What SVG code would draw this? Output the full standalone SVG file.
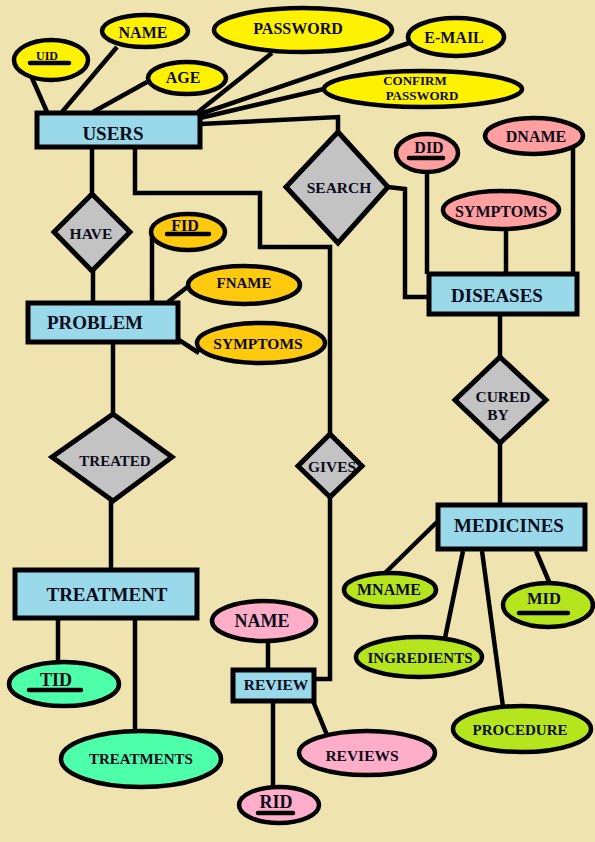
<svg xmlns="http://www.w3.org/2000/svg" width="595" height="842" viewBox="0 0 595 842">
<style>
.ent{fill:#99D9EA;stroke:#000;stroke-width:5}
.rel{fill:#C3C3C3;stroke:#000;stroke-width:5;stroke-linejoin:miter}
.att{stroke:#000;stroke-width:4.5}
.y{fill:#FFF200}.o{fill:#FFC90E}.p{fill:#FF9F9F}.r{fill:#FFAEC9}.g{fill:#B5E61D}.t{fill:#4EFFAA}
text{font-family:"Liberation Serif","Times New Roman",serif;font-weight:bold;fill:#0b0b1a;text-anchor:middle}
.ul{stroke:#000;stroke-width:4.5;stroke-linecap:round}
#connectors path,#connectors line{stroke:#000;stroke-width:4.5;fill:none}
</style>
<rect width="595" height="842" fill="#EFE4B0"/>
<g id="connectors">
<line x1="32" y1="78" x2="47" y2="112"/>
<line x1="117" y1="47" x2="62" y2="112"/>
<line x1="147" y1="82" x2="93" y2="112"/>
<line x1="272" y1="53" x2="198" y2="112"/>
<line x1="409" y1="43" x2="200" y2="114"/>
<line x1="324" y1="89" x2="200" y2="118"/>
<path d="M200 124 L338 117 L338 132"/>
<path d="M388 187 L405 189 L405 297 L429 297"/>
<line x1="427" y1="172" x2="427" y2="274"/>
<line x1="573" y1="148" x2="573" y2="274"/>
<line x1="506" y1="228" x2="506" y2="274"/>
<line x1="500" y1="316" x2="500" y2="357"/>
<line x1="500" y1="443" x2="500" y2="505"/>
<line x1="385" y1="573" x2="437" y2="522"/>
<line x1="445" y1="638" x2="463" y2="551"/>
<line x1="503" y1="707" x2="482" y2="551"/>
<line x1="536" y1="551" x2="550" y2="584"/>
<line x1="92" y1="149" x2="92" y2="194"/>
<line x1="93" y1="271" x2="93" y2="304"/>
<path d="M135 149 L135 193 L260 193 L260 247 L330 247 L330 434"/>
<line x1="152" y1="230" x2="152" y2="304"/>
<line x1="190" y1="285" x2="168" y2="302"/>
<line x1="179" y1="340" x2="199" y2="353"/>
<line x1="113" y1="343" x2="113" y2="414"/>
<line x1="111" y1="501" x2="111" y2="571"/>
<path d="M330 497 L330 679 L315 679"/>
<line x1="268" y1="640" x2="268" y2="671"/>
<line x1="273" y1="701" x2="273" y2="788"/>
<line x1="313" y1="701" x2="327" y2="735"/>
<line x1="58" y1="619" x2="58" y2="663"/>
<line x1="135" y1="618" x2="135" y2="734"/>
</g>
<g id="users"><rect class="ent" x="37" y="113" width="163" height="34"/><text x="113" y="140" font-size="19">USERS</text></g>
<g id="uid"><ellipse class="att y" cx="51" cy="60" rx="37" ry="20"/><text x="47" y="60" font-size="12">UID</text><line class="ul" x1="30" y1="63" x2="69" y2="63"/></g>
<g id="name"><ellipse class="att y" cx="145" cy="31" rx="43" ry="16"/><text x="143" y="38" font-size="16">NAME</text></g>
<g id="age"><ellipse class="att y" cx="187" cy="78" rx="39" ry="16"/><text x="183" y="83" font-size="16">AGE</text></g>
<g id="password"><ellipse class="att y" cx="303" cy="30" rx="89" ry="22"/><text x="298" y="34" font-size="16">PASSWORD</text></g>
<g id="email"><ellipse class="att y" cx="456" cy="37" rx="48" ry="19"/><text x="454" y="43" font-size="16">E-MAIL</text></g>
<g id="confirm"><ellipse class="att y" cx="423" cy="89" rx="99" ry="18"/><text x="415" y="85" font-size="13">CONFIRM</text><text x="422" y="100" font-size="13">PASSWORD</text></g>
<g id="search"><polygon class="rel" points="338,132 388,187 338,243 286,187"/><text x="339" y="193" font-size="15.5">SEARCH</text></g>
<g id="diseases"><rect class="ent" x="429" y="274" width="148" height="40"/><text x="497" y="302" font-size="19">DISEASES</text></g>
<g id="did"><ellipse class="att p" cx="427" cy="153" rx="31" ry="19"/><text x="429" y="153" font-size="16">DID</text><line class="ul" x1="409" y1="158" x2="443" y2="158"/></g>
<g id="dname"><ellipse class="att p" cx="534" cy="136" rx="49" ry="18"/><text x="536" y="142" font-size="16">DNAME</text></g>
<g id="dsymptoms"><ellipse class="att p" cx="501" cy="210" rx="58" ry="19"/><text x="501" y="217" font-size="16">SYMPTOMS</text></g>
<g id="curedby"><polygon class="rel" points="500,357 546,400 500,443 455,400"/><text x="503" y="402" font-size="15.5">CURED</text><text x="498" y="420" font-size="15.5">BY</text></g>
<g id="medicines"><rect class="ent" x="438" y="505" width="147" height="44"/><text x="509" y="532" font-size="19">MEDICINES</text></g>
<g id="mname"><ellipse class="att g" cx="390" cy="590" rx="46" ry="17"/><text x="389" y="595" font-size="16">MNAME</text></g>
<g id="ingredients"><ellipse class="att g" cx="419" cy="657" rx="63" ry="20"/><text x="420" y="663" font-size="15">INGREDIENTS</text></g>
<g id="procedure"><ellipse class="att g" cx="522" cy="729" rx="69" ry="23"/><text x="520" y="735" font-size="15">PROCEDURE</text></g>
<g id="mid"><ellipse class="att g" cx="548" cy="605" rx="45" ry="22"/><text x="544" y="604" font-size="16.5">MID</text><line class="ul" x1="519" y1="613" x2="568" y2="613"/></g>
<g id="have"><polygon class="rel" points="92,194 130,232 92,271 54,232"/><text x="91" y="239" font-size="15.5">HAVE</text></g>
<g id="problem"><rect class="ent" x="28" y="303" width="150" height="39"/><text x="95" y="329" font-size="19">PROBLEM</text></g>
<g id="fid"><ellipse class="att o" cx="188" cy="232" rx="37" ry="18"/><text x="185" y="231" font-size="16">FID</text><line class="ul" x1="167" y1="234" x2="209" y2="234"/></g>
<g id="fname"><ellipse class="att o" cx="244" cy="285" rx="56" ry="19"/><text x="244" y="288" font-size="15">FNAME</text></g>
<g id="psymptoms"><ellipse class="att o" cx="261" cy="343" rx="64" ry="20"/><text x="258" y="349" font-size="15.5">SYMPTOMS</text></g>
<g id="treated"><polygon class="rel" points="113,414 172,457 113,501 52,457"/><text x="115" y="466" font-size="15">TREATED</text></g>
<g id="treatment"><rect class="ent" x="15" y="570" width="182" height="48"/><text x="107" y="601" font-size="19">TREATMENT</text></g>
<g id="tid"><ellipse class="att t" cx="64" cy="684" rx="55" ry="22"/><text x="56" y="686" font-size="18">TID</text><line class="ul" x1="29" y1="690" x2="81" y2="690"/></g>
<g id="treatments"><ellipse class="att t" cx="141" cy="759" rx="80" ry="28"/><text x="141" y="764" font-size="15">TREATMENTS</text></g>
<g id="gives"><polygon class="rel" points="330,434 362,466 330,497 298,466"/><text x="332" y="472" font-size="15.5">GIVES</text></g>
<g id="review"><rect class="ent" x="233" y="670" width="81" height="31"/><text x="276" y="690" font-size="15.5">REVIEW</text></g>
<g id="rname"><ellipse class="att r" cx="264" cy="621" rx="52" ry="20"/><text x="262" y="627" font-size="18">NAME</text></g>
<g id="rid"><ellipse class="att r" cx="279" cy="805" rx="40" ry="18"/><text x="276" y="808" font-size="18">RID</text><line class="ul" x1="258" y1="813" x2="293" y2="813"/></g>
<g id="reviews"><ellipse class="att r" cx="367" cy="753" rx="68" ry="22"/><text x="362" y="761" font-size="15.5">REVIEWS</text></g>
</svg>
